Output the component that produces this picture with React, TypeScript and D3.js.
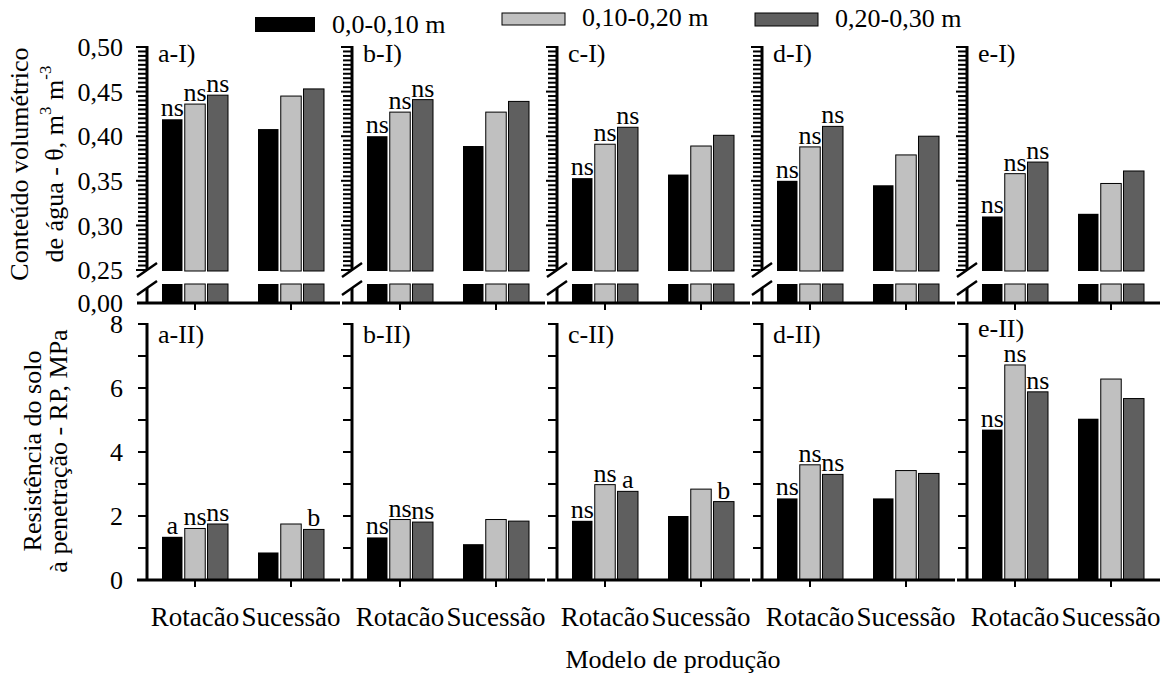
import React from "react";
import * as d3 from "d3";

// Panels (a–e), production models and soil layers
const panels = ["a", "b", "c", "d", "e"];
const models = ["Rotacão", "Sucessão"];
const layers = ["0,0-0,10 m", "0,10-0,20 m", "0,20-0,30 m"];
const layerColors = ["#000000", "#c0c0c0", "#5f5f5f"];

// Volumetric water content θ (m3 m-3), per panel, per layer
const thetaRotacao = [
  [0.419, 0.436, 0.446],
  [0.4, 0.427, 0.441],
  [0.353, 0.391, 0.41],
  [0.35, 0.388, 0.411],
  [0.31, 0.358, 0.371],
];
const thetaSucessao = [
  [0.408, 0.445, 0.453],
  [0.389, 0.427, 0.439],
  [0.357, 0.389, 0.401],
  [0.345, 0.379, 0.4],
  [0.313, 0.347, 0.361],
];

// Penetration resistance RP (MPa), per panel, per layer
const rpRotacao = [
  [1.35, 1.61, 1.75],
  [1.33, 1.89, 1.81],
  [1.85, 2.98, 2.77],
  [2.55, 3.6, 3.3],
  [4.7, 6.72, 5.88],
];
const rpSucessao = [
  [0.86, 1.75, 1.58],
  [1.12, 1.89, 1.84],
  [2.0, 2.84, 2.45],
  [2.55, 3.42, 3.33],
  [5.04, 6.28, 5.67],
];

// Significance letters above bars
const thetaLetters = [
  [["ns", "ns", "ns"], ["", "", ""]],
  [["ns", "ns", "ns"], ["", "", ""]],
  [["ns", "ns", "ns"], ["", "", ""]],
  [["ns", "ns", "ns"], ["", "", ""]],
  [["ns", "ns", "ns"], ["", "", ""]],
];
const rpLetters = [
  [["a", "ns", "ns"], ["", "", "b"]],
  [["ns", "ns", "ns"], ["", "", ""]],
  [["ns", "ns", "a"], ["", "", "b"]],
  [["ns", "ns", "ns"], ["", "", ""]],
  [["ns", "ns", "ns"], ["", "", ""]],
];

const thetaTicks = [0.25, 0.3, 0.35, 0.4, 0.45, 0.5];
const rpTicks = [0, 2, 4, 6, 8];

const FONT = "Liberation Serif";
const FS = 26;

const fmtComma = (v: number) => d3.format(".2f")(v).replace(".", ",");

export default function App() {
  const W = 1167;
  const H = 680;
  const axis0 = 147;
  const panelStep = 205;

  const xGroup = d3.scaleBand<string>().domain(models).range([0, 192]);
  const xLayer = d3
    .scaleBand<string>()
    .domain(layers)
    .range([-33, 33])
    .paddingInner(0.1);

  // θ: broken axis, upper part 0.25–0.50, lower stub from 0
  const yTheta = d3.scaleLinear().domain([0.25, 0.5]).range([270, 47]);
  const yThetaLow = d3.scaleLinear().domain([0, 0.021]).range([303, 284]).clamp(true);
  const thetaBase = 303;
  const thetaMinor = d3.range(0, 51).map((i) => 0.25 + i * 0.005);

  const yRP = d3.scaleLinear().domain([0, 8]).range([580, 324]);
  const rpMinor = d3.range(0, 9);

  const cx = (m: string) => (xGroup(m) as number) + xGroup.bandwidth() / 2;

  const textProps = { fontFamily: FONT, fontSize: FS, fill: "#000" };

  const renderTop = (pi: number) => {
    const ax = axis0 + pi * panelStep;
    const vals = [thetaRotacao[pi], thetaSucessao[pi]];
    return (
      <g key={"top" + pi}>
        {models.map((m, mi) =>
          layers.map((l, li) => {
            const v = vals[mi][li];
            const x = ax + cx(m) + (xLayer(l) as number);
            const w = xLayer.bandwidth();
            const yTopV = yTheta(v);
            const yBot = yTheta(0.25) + 1;
            const lowTop = yThetaLow(v);
            const stroke = li === 0 ? "none" : "#000";
            const lab = thetaLetters[pi][mi][li];
            return (
              <g key={m + l}>
                <rect x={x} y={yTopV} width={w} height={yBot - yTopV} fill={layerColors[li]} stroke={stroke} strokeWidth={1} />
                <rect x={x} y={lowTop} width={w} height={thetaBase - lowTop} fill={layerColors[li]} stroke={stroke} strokeWidth={1} />
                {lab && (
                  <text x={x + w / 2} y={yTopV - 3} textAnchor="middle" {...textProps}>
                    {lab}
                  </text>
                )}
              </g>
            );
          })
        )}
        {/* y axis with break */}
        <line x1={ax} x2={ax} y1={yTheta(0.5) - 1} y2={270} stroke="#000" strokeWidth={3} />
        <line x1={ax} x2={ax} y1={288} y2={thetaBase} stroke="#000" strokeWidth={3} />
        <line x1={ax - 10} x2={ax + 10} y1={277} y2={263} stroke="#000" strokeWidth={2.5} />
        <line x1={ax - 10} x2={ax + 10} y1={295} y2={281} stroke="#000" strokeWidth={2.5} />
        {thetaMinor.map((t, i) => (
          <line key={i} x1={ax - (i % 10 === 0 ? 11 : 9)} x2={ax} y1={yTheta(t)} y2={yTheta(t)} stroke="#000" strokeWidth={2} />
        ))}
        {/* x axis */}
        <line x1={ax - 10} x2={ax + 193} y1={thetaBase} y2={thetaBase} stroke="#000" strokeWidth={3} />
        {models.map((m) => (
          <line key={m} x1={ax + cx(m)} x2={ax + cx(m)} y1={thetaBase} y2={thetaBase + 7} stroke="#000" strokeWidth={2} />
        ))}
        <text x={ax + 11} y={62} {...textProps}>
          {panels[pi]}-I)
        </text>
        {pi === 0 && (
          <g>
            {thetaTicks.map((t) => (
              <text key={t} x={ax - 24} y={yTheta(t)} dy="0.35em" textAnchor="end" {...textProps}>
                {fmtComma(t)}
              </text>
            ))}
            <text x={ax - 24} y={thetaBase} dy="0.35em" textAnchor="end" {...textProps}>
              {fmtComma(0)}
            </text>
          </g>
        )}
      </g>
    );
  };

  const renderBottom = (pi: number) => {
    const ax = axis0 + pi * panelStep;
    const vals = [rpRotacao[pi], rpSucessao[pi]];
    const base = yRP(0);
    return (
      <g key={"bot" + pi}>
        {models.map((m, mi) =>
          layers.map((l, li) => {
            const v = vals[mi][li];
            const x = ax + cx(m) + (xLayer(l) as number);
            const w = xLayer.bandwidth();
            const yv = yRP(v);
            const stroke = li === 0 ? "none" : "#000";
            const lab = rpLetters[pi][mi][li];
            return (
              <g key={m + l}>
                <rect x={x} y={yv} width={w} height={base - yv} fill={layerColors[li]} stroke={stroke} strokeWidth={1} />
                {lab && (
                  <text x={x + w / 2} y={yv - 3} textAnchor="middle" {...textProps}>
                    {lab}
                  </text>
                )}
              </g>
            );
          })
        )}
        <line x1={ax} x2={ax} y1={yRP(8) - 1} y2={base} stroke="#000" strokeWidth={3} />
        {rpMinor.map((t) => (
          <line key={t} x1={ax - 9} x2={ax} y1={yRP(t)} y2={yRP(t)} stroke="#000" strokeWidth={2} />
        ))}
        <line x1={ax - 10} x2={ax + 193} y1={base} y2={base} stroke="#000" strokeWidth={3} />
        {models.map((m) => (
          <g key={m}>
            <line x1={ax + cx(m)} x2={ax + cx(m)} y1={base} y2={base + 7} stroke="#000" strokeWidth={2} />
            <text x={ax + cx(m)} y={626} textAnchor="middle" {...textProps} fontSize={27}>
              {m}
            </text>
          </g>
        ))}
        <text x={ax + 11} y={pi === 4 ? 337 : 343} {...textProps}>
          {panels[pi]}-II)
        </text>
        {pi === 0 &&
          rpTicks.map((t) => (
            <text key={t} x={ax - 24} y={yRP(t)} dy="0.35em" textAnchor="end" {...textProps}>
              {t}
            </text>
          ))}
      </g>
    );
  };

  const legendItems = [
    { rx: 255, ry: 17, rw: 60, rh: 15, tx: 332, ty: 33 },
    { rx: 502, ry: 13, rw: 63, rh: 12, tx: 582, ty: 26 },
    { rx: 755, ry: 13, rw: 63, rh: 13, tx: 835, ty: 27 },
  ];

  return (
    <svg
      width={W}
      height={H}
      viewBox={`0 0 ${W} ${H}`}
      style={{ position: "absolute", left: 0, top: 0, background: "#fff" }}
    >
      <rect x={0} y={0} width={W} height={H} fill="#fff" />
      {layers.map((l, i) => {
        const p = legendItems[i];
        return (
          <g key={l}>
            <rect x={p.rx} y={p.ry} width={p.rw} height={p.rh} fill={layerColors[i]} stroke={i === 0 ? "none" : "#000"} strokeWidth={1} />
            <text x={p.tx} y={p.ty} {...textProps}>
              {l}
            </text>
          </g>
        );
      })}
      {panels.map((_, i) => renderTop(i))}
      {panels.map((_, i) => renderBottom(i))}

      {/* axis titles */}
      <text transform="translate(28,164) rotate(-90)" textAnchor="middle" {...textProps}>
        Conteúdo volumétrico
      </text>
      <text transform="translate(63,164) rotate(-90)" textAnchor="middle" {...textProps}>
        de água - θ, m
        <tspan dy={-12} fontSize={17}>3</tspan>
        <tspan dy={12}> m</tspan>
        <tspan dy={-12} fontSize={17}>-3</tspan>
      </text>
      <text transform="translate(41,451) rotate(-90)" textAnchor="middle" {...textProps}>
        Resistência do solo
      </text>
      <text transform="translate(67,451) rotate(-90)" textAnchor="middle" {...textProps}>
        à penetração - RP, MPa
      </text>
      <text x={673} y={668} textAnchor="middle" {...textProps}>
        Modelo de produção
      </text>
    </svg>
  );
}
